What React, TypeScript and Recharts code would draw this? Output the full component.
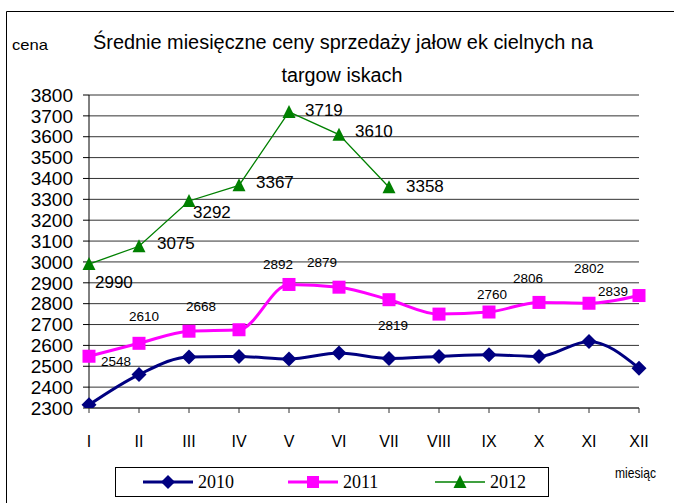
import { LineChart, Line, XAxis, YAxis, CartesianGrid, LabelList } from 'recharts';

const months = ['I', 'II', 'III', 'IV', 'V', 'VI', 'VII', 'VIII', 'IX', 'X', 'XI', 'XII'];
const y2010 = [2315, 2460, 2545, 2547, 2535, 2563, 2537, 2547, 2555, 2547, 2619, 2491];
const y2011 = [2548, 2610, 2668, 2675, 2892, 2879, 2819, 2750, 2760, 2806, 2802, 2839];
const y2012 = [2990, 3075, 3292, 3367, 3719, 3610, 3358, null, null, null, null, null];
const yTicks = [2300, 2400, 2500, 2600, 2700, 2800, 2900, 3000, 3100, 3200, 3300, 3400, 3500, 3600, 3700, 3800];

// where each value label sits relative to its marker (null = no label shown)
const shift2011: ([number, number] | null)[] = [
  [27, 5], [5, -27], [12, -25], null, [-11, -20], [-17, -25],
  [4, 26], null, [3, -18], [-11, -24], [0, -35], [-26, -4],
];
const shift2012: [number, number][] = [
  [6, 18], [18, -3], [4, 11], [17, -3], [16, -1], [16, -3], [17, -1],
];

const data = months.map((m, i) => ({
  month: m,
  a: y2010[i],
  b: y2011[i],
  c: y2012[i],
}));

const NAVY = '#000080';
const PINK = '#FF00FF';
const GREEN = '#008000';
const SANS = 'Liberation Sans, Arial, sans-serif';

const Diamond = (p: any) => {
  const { cx, cy, index } = p;
  if (cx == null || cy == null) return <g key={'d' + index} />;
  const r = 7.5;
  return (
    <polygon key={'d' + index} fill={NAVY}
      points={`${cx},${cy - r} ${cx + r},${cy} ${cx},${cy + r} ${cx - r},${cy}`} />
  );
};

const Square = (p: any) => {
  const { cx, cy, index } = p;
  if (cx == null || cy == null) return <g key={'s' + index} />;
  return <rect key={'s' + index} x={cx - 6.5} y={cy - 6.5} width={13} height={13} fill={PINK} />;
};

const Triangle = (p: any) => {
  const { cx, cy, index } = p;
  if (cx == null || cy == null) return <g key={'t' + index} />;
  return (
    <polygon key={'t' + index} fill={GREEN}
      points={`${cx},${cy - 7} ${cx + 6.5},${cy + 6} ${cx - 6.5},${cy + 6}`} />
  );
};

const label2011 = (p: any) => {
  const s = shift2011[p.index];
  if (!s || p.value == null) return null;
  return (
    <text x={p.x + s[0]} y={p.y + s[1]} textAnchor="middle" dominantBaseline="central"
      fontFamily={SANS} fontSize={13.5} fill="#000">
      {p.value}
    </text>
  );
};

const label2012 = (p: any) => {
  const s = shift2012[p.index];
  if (!s || p.value == null) return null;
  return (
    <text x={p.x + s[0]} y={p.y + s[1]} textAnchor="start" dominantBaseline="central"
      fontFamily={SANS} fontSize={17} fill="#000">
      {p.value}
    </text>
  );
};

const legendItems = [
  { name: '2010', x: 143, color: NAVY, width: 3, mark: 'diamond' },
  { name: '2011', x: 288, color: PINK, width: 3, mark: 'square' },
  { name: '2012', x: 435, color: GREEN, width: 1.5, mark: 'triangle' },
];

function LegendMark({ kind, cx, cy, color }: { kind: string; cx: number; cy: number; color: string }) {
  if (kind === 'diamond')
    return <polygon fill={color} points={`${cx},${cy - 7} ${cx + 7},${cy} ${cx},${cy + 7} ${cx - 7},${cy}`} />;
  if (kind === 'square') return <rect x={cx - 6} y={cy - 6} width={12} height={12} fill={color} />;
  return <polygon fill={color} points={`${cx},${cy - 7} ${cx + 6.5},${cy + 6} ${cx - 6.5},${cy + 6}`} />;
}

export default function App() {
  return (
    <div style={{ position: 'absolute', left: 0, top: 0, width: 674, height: 503, background: '#fff' }}>
      <LineChart width={674} height={503} data={data}
        margin={{ top: 95, right: 35, left: 0, bottom: 65 }}>
        <CartesianGrid vertical={false} stroke="#333" />
        <XAxis dataKey="month" height={30} stroke="#333" tickSize={5} tickMargin={23}
          tick={{ fill: '#000', fontSize: 16, fontFamily: SANS }} interval={0} />
        <YAxis width={89} domain={[2300, 3800]} ticks={yTicks} stroke="#000" tickSize={6} tickMargin={10}
          tick={{ fill: '#000', fontSize: 19, fontFamily: SANS }} interval={0} allowDataOverflow />
        <YAxis yAxisId="edge" orientation="right" width={0} domain={[2300, 3800]}
          tick={false} tickLine={false} axisLine={{ stroke: '#888' }} />
        <Line dataKey="a" type="monotone" stroke={NAVY} strokeWidth={3} dot={Diamond}
          activeDot={false} isAnimationActive={false} />
        <Line dataKey="b" type="monotone" stroke={PINK} strokeWidth={3} dot={Square}
          activeDot={false} isAnimationActive={false}>
          <LabelList dataKey="b" content={label2011} />
        </Line>
        <Line dataKey="c" type="linear" stroke={GREEN} strokeWidth={1.3} dot={Triangle}
          activeDot={false} isAnimationActive={false}>
          <LabelList dataKey="c" content={label2012} />
        </Line>
      </LineChart>
      <svg width={674} height={503} style={{ position: 'absolute', left: 0, top: 0, pointerEvents: 'none' }}>
        <path d="M6.5,503 L6.5,11.5 L674,11.5" fill="none" stroke="#000" strokeWidth={1} />
        <text x={12} y={50} fontFamily={SANS} fontSize={15} textLength={36} lengthAdjust="spacingAndGlyphs">cena</text>
        <text x={343} y={49} textAnchor="middle" fontFamily={SANS} fontSize={20}
          textLength={500} lengthAdjust="spacingAndGlyphs">
          Średnie miesięczne ceny sprzedaży jałow ek cielnych na
        </text>
        <text x={342} y={82} textAnchor="middle" fontFamily={SANS} fontSize={20}
          textLength={121} lengthAdjust="spacingAndGlyphs">
          targow iskach
        </text>
        <text x={615} y={478} fontFamily={SANS} fontSize={15} textLength={41} lengthAdjust="spacingAndGlyphs">miesiąc</text>
        <rect x={115.5} y={467.5} width={433} height={29} fill="#fff" stroke="#000" strokeWidth={1} />
        {legendItems.map((it) => (
          <g key={it.name}>
            <line x1={it.x} x2={it.x + 50} y1={482} y2={482} stroke={it.color} strokeWidth={it.width} />
            <LegendMark kind={it.mark} cx={it.x + 25} cy={482} color={it.color} />
            <text x={it.x + 55} y={488} fontFamily="Liberation Serif, Times New Roman, serif" fontSize={18}>
              {it.name}
            </text>
          </g>
        ))}
      </svg>
    </div>
  );
}
